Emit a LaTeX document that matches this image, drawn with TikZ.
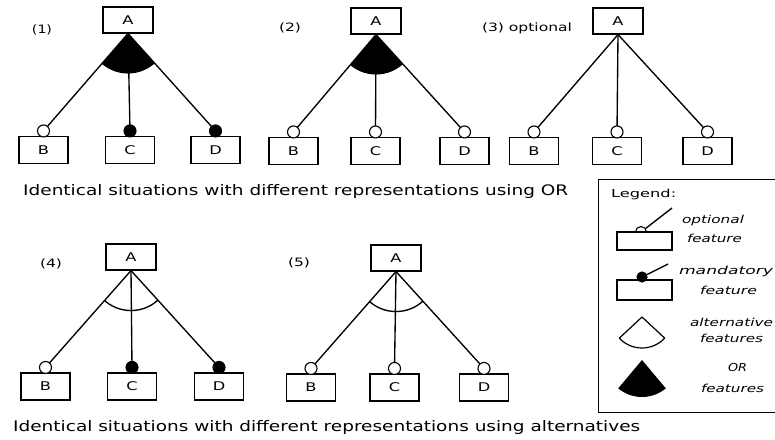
\documentclass[tikz,border=0pt]{standalone}
\usepackage{fontspec}
\setmainfont{DejaVu Sans}[ItalicFont={DejaVu Sans Oblique}]
\usetikzlibrary{calc}
\newcommand\tw[2]{\resizebox{#1}{\height}{#2}}
\newcommand\lab[1]{\scalebox{1.35}[1]{#1}}
\newcommand\ftree[7]{%
  \node[fbox, minimum width=50pt, minimum height=26pt] (#1A) at (#2,#3) {\lab{A}};
  \node[fbox] (#1B) at (#4,#7) {\lab{B}};
  \node[fbox] (#1C) at (#5,#7) {\lab{C}};
  \node[fbox] (#1D) at (#6,#7) {\lab{D}};
  \coordinate (#1apex) at (#1A.south);
}
\newcommand\fkid[3]{%
  \draw[edge] (#1apex) -- ($(#1#2.north)+(0,-5)$);
  \node[#3] (#1c#2) at ($(#1#2.north)+(0,-5)$) {};
}
\newcommand\orfan[1]{%
  \begin{scope}
    \clip (#1apex) -- ($(#1apex)!4!(#1cB)$) -- ($(#1apex)!4!(#1cD)$) -- cycle;
    \fill (#1apex) circle[radius=40pt];
  \end{scope}
}
\newcommand\altarc[1]{%
  \begin{scope}
    \clip (#1apex) -- ($(#1apex)!4!(#1cB)$) -- ($(#1apex)!4!(#1cD)$) -- cycle;
    \draw[edge] (#1apex) circle[radius=40pt];
  \end{scope}
}
\begin{document}
\begin{tikzpicture}[x=1pt,y=-1pt,
  fbox/.style={draw, line width=1.1pt, fill=white, minimum width=49pt, minimum height=27pt, inner sep=0pt, font=\fontsize{12}{13}\selectfont},
  optc/.style={draw, circle, fill=white, line width=1.1pt, minimum size=12pt, inner sep=0pt},
  mandc/.style={optc, fill=black},
  edge/.style={line width=1.35pt},
  txt/.style={inner sep=0pt, font=\fontsize{11.5}{12}\selectfont},
  captxt/.style={inner sep=0pt, anchor=base west, font=\fontsize{14.5}{16}\selectfont},
  leg/.style={inner sep=0pt, font=\fontsize{11}{12}\selectfont\itshape},
]
\useasboundingbox (0,0) rectangle (775,439);

% (1)
\ftree{p1}{128}{20}{43.5}{130}{215.5}{150}
\fkid{p1}{B}{optc}\fkid{p1}{C}{mandc}\fkid{p1}{D}{mandc}
\orfan{p1}
% (2)
\ftree{p2}{376}{21}{293.5}{375.5}{464.5}{151}
\fkid{p2}{B}{optc}\fkid{p2}{C}{optc}\fkid{p2}{D}{optc}
\orfan{p2}
% (3)
\ftree{p3}{618}{21}{534}{617}{707.5}{151}
\fkid{p3}{B}{optc}\fkid{p3}{C}{optc}\fkid{p3}{D}{optc}
% (4)
\ftree{p4}{131}{257}{45.5}{132}{219}{386.5}
\fkid{p4}{B}{optc}\fkid{p4}{C}{mandc}\fkid{p4}{D}{mandc}
\altarc{p4}
% (5)
\ftree{p5}{396}{258}{311}{394.5}{484}{387.5}
\fkid{p5}{B}{optc}\fkid{p5}{C}{optc}\fkid{p5}{D}{optc}
\altarc{p5}

% labels
\node[txt] (l1) at (42,30) {\tw{20pt}{(1)}};
\node[txt] (l2) at (290,28) {\tw{22pt}{(2)}};
\node[txt] (l3) at (527,28) {\tw{90pt}{(3) optional}};
\node[txt] (l4) at (51,264) {\tw{22pt}{(4)}};
\node[txt] (l5) at (299,263) {\tw{22pt}{(5)}};

\node[captxt] (cap1) at (23,195.5) {\tw{545pt}{Identical situations with different representations using OR}};
\node[captxt] (cap2) at (13,431.5) {\tw{627pt}{Identical situations with different representations using alternatives}};

% legend
\node[draw, line width=1.2pt, anchor=north west, minimum width=182pt, minimum height=233pt, inner sep=0pt] (legend) at (598,179) {};
\node[txt, anchor=base west, font=\fontsize{11}{12}\selectfont] (legt) at (611,197.5) {\tw{65pt}{Legend:}};

% optional icon
\node[optc, minimum size=11pt] (loc) at (641,232) {};
\node[draw, fill=white, line width=1.1pt, minimum width=55pt, minimum height=18pt, inner sep=0pt] (lopt) at (644.5,241) {};
\coordinate (loe) at (672,208);
\draw[edge] (loc) -- (loe);
% mandatory icon
\node[draw, fill=white, line width=1.1pt, minimum width=55pt, minimum height=20pt, inner sep=0pt] (lman) at (644.5,290) {};
\node[mandc, minimum size=10pt] (lmc) at (642,277) {};
\coordinate (lme) at (668,264);
\draw[edge] (lmc) -- (lme);
% alternative icon
\coordinate (lalt) at (642,317);
\begin{scope}
  \clip (lalt) -- +(43:60) -- +(137:60) -- cycle;
  \draw[line width=1.2pt] (lalt) circle[radius=31pt];
\end{scope}
\draw[line width=1.2pt] (lalt) -- +(43:31);
\draw[line width=1.2pt] (lalt) -- +(137:31);
% OR icon
\coordinate (lor) at (642,360);
\begin{scope}
  \clip (lor) -- +(50:60) -- +(130:60) -- cycle;
  \fill (lor) circle[radius=37pt];
\end{scope}

\node[leg] (t1) at (713,220) {\tw{62pt}{optional}};
\node[leg] (t2) at (714.5,238) {\tw{55pt}{feature}};
\node[leg] (t3) at (726,271) {\tw{94pt}{mandatory}};
\node[leg] (t4) at (728.5,290) {\tw{57pt}{feature}};
\node[leg] (t5) at (731.5,322) {\tw{83pt}{alternative}};
\node[leg] (t6) at (731.5,338) {\tw{63pt}{features}};
\node[leg] (t7) at (737.5,367) {\tw{19pt}{OR}};
\node[leg] (t8) at (732.5,388) {\tw{63pt}{features}};
\end{tikzpicture}
\end{document}
